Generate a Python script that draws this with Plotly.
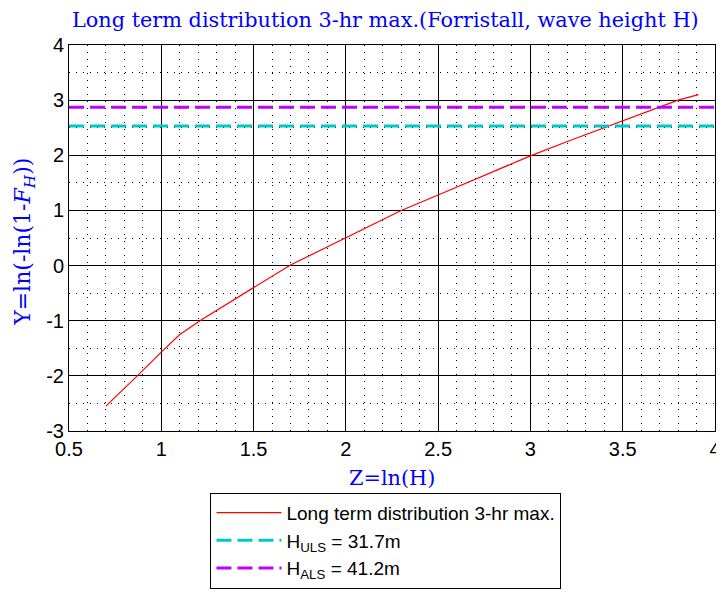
import plotly.graph_objects as go

# Data
z_vals = [0.70, 0.77, 0.87, 1.0, 1.1, 1.22, 1.4, 1.5, 1.7, 2.0, 2.3, 2.5, 2.65, 2.9, 3.0, 3.2, 3.48, 3.8, 3.91]
y_vals = [-2.55, -2.33, -2.0, -1.57, -1.25, -0.98, -0.6, -0.4, 0.01, 0.51, 1.0, 1.28, 1.49, 1.84, 1.99, 2.25, 2.6, 3.0, 3.1]
line_x = [0.5, 4.0]
y_uls = 2.53
y_als = 2.87
x_ticks = [0.5, 1, 1.5, 2, 2.5, 3, 3.5, 4]
x_tick_labels = ["0.5", "1", "1.5", "2", "2.5", "3", "3.5", "4"]
y_ticks = [-3, -2, -1, 0, 1, 2, 3, 4]
y_tick_labels = ["-3", "-2", "-1", "0", "1", "2", "3", "4"]

fig = go.Figure()
fig.add_trace(go.Scatter(x=z_vals, y=y_vals, mode="lines",
                         line=dict(color="#ff0000", width=1.2),
                         name="Long term distribution 3-hr max."))
fig.add_trace(go.Scatter(x=line_x, y=[y_uls, y_uls], mode="lines",
                         line=dict(color="#00c8c8", width=3, dash="15px,6px"),
                         name="H<sub>ULS</sub> = 31.7m"))
fig.add_trace(go.Scatter(x=line_x, y=[y_als, y_als], mode="lines",
                         line=dict(color="#c000ff", width=3, dash="15px,6px"),
                         name="H<sub>ALS</sub> = 41.2m"))

tickfont = dict(family="Liberation Sans, Arial", size=20, color="black")
fig.update_xaxes(range=[0.5, 4], tickvals=x_ticks, ticktext=x_tick_labels,
                 showgrid=True, gridcolor="black", gridwidth=1,
                 showline=True, linecolor="black", linewidth=1, mirror=True,
                 ticks="inside", ticklen=5, tickcolor="black",
                 zeroline=False, tickfont=tickfont, ticklabeloverflow="allow",
                 minor=dict(dtick=0.1, tick0=0.5, showgrid=True, gridcolor="black",
                            griddash="1px,6px", gridwidth=1))
fig.update_yaxes(range=[-3, 4], tickvals=y_ticks, ticktext=y_tick_labels,
                 showgrid=True, gridcolor="black", gridwidth=1,
                 showline=True, linecolor="black", linewidth=1, mirror=True,
                 ticks="inside", ticklen=5, tickcolor="black",
                 zeroline=False, tickfont=tickfont, ticklabeloverflow="allow",
                 minor=dict(dtick=0.5, tick0=-3, showgrid=True, gridcolor="black",
                            griddash="1px,6px", gridwidth=1))

serif_blue = dict(family="DejaVu Serif, Liberation Serif", size=20.8, color="#0000ff")
fig.update_layout(
    width=716, height=595,
    margin=dict(l=61, r=3, t=37, b=172),
    plot_bgcolor="white", paper_bgcolor="white",
    showlegend=True,
    legend=dict(x=0.219, y=-0.16, xanchor="left", yanchor="top",
                bgcolor="white", bordercolor="black", borderwidth=1,
                font=dict(family="Liberation Sans, Arial", size=19, color="black"),
                itemwidth=65),
    annotations=[
        dict(text="Long term distribution 3-hr max.(Forristall, wave height H)",
             xref="paper", yref="paper", x=0.49, y=1, yshift=25, showarrow=False,
             xanchor="center", yanchor="middle", font=serif_blue),
        dict(text="Z=ln(H)", xref="paper", yref="paper", x=0.5, y=0, yshift=-47,
             showarrow=False, xanchor="center", yanchor="middle", font=serif_blue),
        dict(text="Y=ln(-ln(1-<i>F</i><sub><i>H</i></sub>))", xref="paper", yref="paper",
             x=0, y=0.49, xshift=-44, showarrow=False, textangle=-90,
             xanchor="center", yanchor="middle",
             font=dict(family="DejaVu Serif, Liberation Serif", size=22, color="#0000ff")),
    ],
)

fig.write_html("out.html")
